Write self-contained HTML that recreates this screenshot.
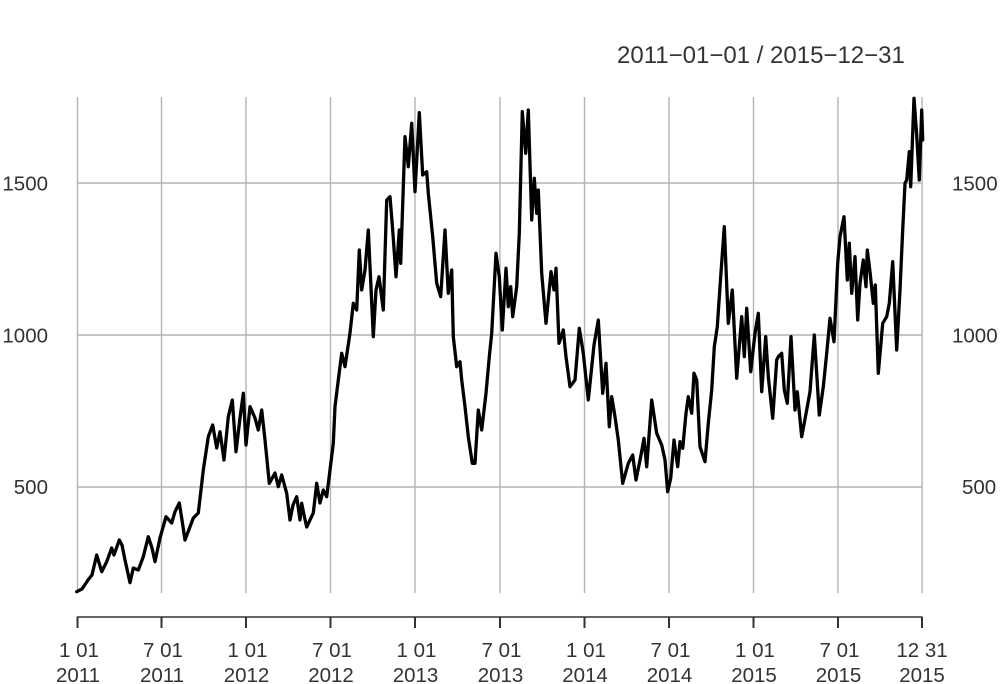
<!DOCTYPE html>
<html>
<head>
<meta charset="utf-8">
<style>
  html, body { margin: 0; padding: 0; background: #ffffff; }
  body { width: 1000px; height: 684px; overflow: hidden; }
  svg { display: block; }
  text { font-family: "Liberation Sans", Arial, sans-serif; fill: #333333; }
</style>
</head>
<body>
<svg width="1000" height="684" viewBox="0 0 1000 684" xmlns="http://www.w3.org/2000/svg">
  <rect x="0" y="0" width="1000" height="684" fill="#ffffff"/>

  <text x="617" y="63" font-size="24">2011−01−01 / 2015−12−31</text>

  <g stroke="#b3b3b3" stroke-width="1.4">
    <line x1="77.5" y1="97" x2="77.5" y2="593"/>
    <line x1="161.5" y1="97" x2="161.5" y2="593"/>
    <line x1="246" y1="97" x2="246" y2="593"/>
    <line x1="330.5" y1="97" x2="330.5" y2="593"/>
    <line x1="415" y1="97" x2="415" y2="593"/>
    <line x1="500" y1="97" x2="500" y2="593"/>
    <line x1="584.5" y1="97" x2="584.5" y2="593"/>
    <line x1="669" y1="97" x2="669" y2="593"/>
    <line x1="753.5" y1="97" x2="753.5" y2="593"/>
    <line x1="838" y1="97" x2="838" y2="593"/>
    <line x1="922" y1="97" x2="922" y2="593"/>
    <line x1="77" y1="183" x2="922" y2="183"/>
    <line x1="77" y1="335" x2="922" y2="335"/>
    <line x1="77" y1="487" x2="922" y2="487"/>
  </g>

  <g font-size="20.5" text-anchor="end">
    <text x="48" y="190.5">1500</text>
    <text x="48" y="342.5">1000</text>
    <text x="48" y="494">500</text>
  </g>
  <g font-size="20.5" text-anchor="start">
    <text x="952" y="190.5">1500</text>
    <text x="952" y="342.5">1000</text>
    <text x="962" y="494">500</text>
  </g>

  <g stroke="#333333">
    <line x1="77" y1="617" x2="922.5" y2="617" stroke-width="1.6"/>
    <g stroke-width="2">
      <line x1="77.5" y1="617" x2="77.5" y2="628"/>
      <line x1="161.5" y1="617" x2="161.5" y2="628"/>
      <line x1="246" y1="617" x2="246" y2="628"/>
      <line x1="330.5" y1="617" x2="330.5" y2="628"/>
      <line x1="415" y1="617" x2="415" y2="628"/>
      <line x1="500" y1="617" x2="500" y2="628"/>
      <line x1="584.5" y1="617" x2="584.5" y2="628"/>
      <line x1="669" y1="617" x2="669" y2="628"/>
      <line x1="753.5" y1="617" x2="753.5" y2="628"/>
      <line x1="838" y1="617" x2="838" y2="628"/>
      <line x1="922" y1="617" x2="922" y2="628"/>
    </g>
  </g>

  <g font-size="20.5" text-anchor="middle">
    <text x="79" y="657">1 01</text><text x="78" y="682">2011</text>
    <text x="163" y="657">7 01</text><text x="162" y="682">2011</text>
    <text x="247.5" y="657">1 01</text><text x="246.5" y="682">2012</text>
    <text x="332" y="657">7 01</text><text x="331" y="682">2012</text>
    <text x="416.5" y="657">1 01</text><text x="415.5" y="682">2013</text>
    <text x="501.5" y="657">7 01</text><text x="500.5" y="682">2013</text>
    <text x="586" y="657">1 01</text><text x="585" y="682">2014</text>
    <text x="670.5" y="657">7 01</text><text x="669.5" y="682">2014</text>
    <text x="755" y="657">1 01</text><text x="754" y="682">2015</text>
    <text x="839.5" y="657">7 01</text><text x="838.5" y="682">2015</text>
    <text x="922" y="657">12 31</text><text x="922" y="682">2015</text>
  </g>

  <polyline fill="none" stroke="#000000" stroke-width="3.3" stroke-linejoin="round" stroke-linecap="round" points="
76.7,591.7 82,589 88,580 92,575 96.7,555 101.7,571.7 106.7,561.7 111.7,548 114,555 119.3,540 122,545 125,560 130,582.7 133.3,568 138.3,570 143.3,556.7 148.3,536.7 152,548 155,561.7 160,538 166,516.7 171.7,523 175,511.7 179.3,503 182,520 185,540 193.3,518 198.3,513 203.3,470 208.3,436.7 212.7,425 216.7,448 220,431.7 224,460 228.3,416.7 232.3,400 236,451.7 240,418 243.3,393.3 246,445 250,406.7 255,418 258.3,430 261.7,410 265,440 269.3,483.3 275,473 278.3,486.7 281.7,475 286.7,493.3 290,520 293,505 296.7,496.7 300,520 301.7,503.3 304,515 306.7,527 310,520 313.3,513 316.7,483.3 320,503 323.3,490 326.7,496.7 330,470 333.3,443.3 335,406.7 338.3,380 341.7,353.3 345,366.7 350,333 353.3,303.3 356.7,310 359.3,250 361.7,290 365,270 368.3,230 373.3,336.7 376,290 379,276.7 383.3,310 386.7,200 390,196.7 392.7,230 396,276.7 399.3,230 400.7,263.3 405,136.7 408.3,166.7 411.7,123.3 415,191.7 419.3,112.7 422.7,175 426.7,171.7 428.3,193.3 432.7,236.7 436.7,283.3 440.7,296.7 445,230 448.3,293.3 451.7,270 453.3,336.7 456.7,366.7 460,361.7 461.7,380 465,406.7 468.3,436.7 472.3,463.3 475,463.3 478.3,410 481.7,430 486,393.3 489.3,356.7 491.7,333.3 496,253.3 499.3,276.7 502.3,330 506,268.3 508.3,306.7 510.7,286.7 512.7,316.7 516.7,286.7 519.3,233.3 522.3,111.7 525.7,153.3 528.3,110 531.7,220 534.3,178.3 536.7,213.3 538.3,190 541.7,273.3 546,323.3 551,271.7 554,290 556,268.3 559,343.3 563.3,330 566,356.7 570,386.7 575,380 579.3,328.3 583.3,353.3 588.3,400 594,345 598.3,320 602.7,393.3 606,363.3 609.3,426.7 611.7,396.7 615,416.7 618.3,440 622.7,483.3 628.3,463.3 632.7,455 636,480 640.7,456.7 644,438.3 646.7,466.7 651.7,400 656.7,433.3 661.7,445 665,460 667.7,491.7 670.7,478.3 674,440 677.7,466.7 680,441.7 682.7,448.3 686,413.3 688.3,396.7 691.7,413.3 694,373.3 696.7,380 700,446.7 705,461.7 708.3,423.3 711.7,390 714.3,346.7 717.3,326.7 720.7,276.7 724.3,226.7 728.3,323.3 732.3,290 736.7,378.3 741.7,316.7 744.3,356.7 746.7,308.3 750.7,371.7 755,333.3 758.3,313.3 761.7,391.7 765.7,336.7 768.3,376.7 772.7,418.3 776.7,360 778.3,356.7 781.7,353.3 784.3,390 787.3,403.3 791,336.7 795,410 797.3,391.7 801.7,436.7 806.7,410 810,391.7 814.3,335 819.3,415 823.3,386.7 826.7,353.3 830,318.3 834,341.7 837.7,263.3 840,236.7 844,216.7 847.3,280 849.3,243.3 851.7,293.3 855,256.7 857.7,320 860,283.3 863.3,260 866,286.7 867.3,250 870,271.7 873.3,303.3 875.3,285 878.3,373.3 882.7,323.3 886.7,316.7 889.3,303.3 892.7,261.7 896.7,350 900,290 902.7,230 905,183.3 906.7,180 909.3,151.7 910.7,186.7 914,98.3 916.7,135 919.3,180 921.7,110 922.7,140"/>
</svg>
</body>
</html>
